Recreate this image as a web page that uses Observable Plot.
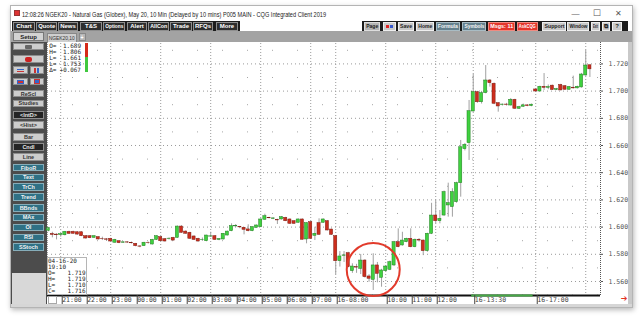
<!DOCTYPE html>
<html><head><meta charset="utf-8">
<script src="https://cdn.jsdelivr.net/npm/d3@7"></script>
<script src="https://cdn.jsdelivr.net/npm/@observablehq/plot@0.6"></script>
<style>
html,body{margin:0;padding:0;background:#fff;width:640px;height:318px;overflow:hidden;}
#root{position:relative;width:640px;height:318px;font-family:"Liberation Sans",Arial,sans-serif;}
#root div{position:absolute;box-sizing:border-box;}
#root svg{position:absolute;}
.t{white-space:nowrap;display:inline-block;}
</style></head><body><div id="root"></div>
<script>
// ---------------- DATA (10-minute candles, NGEK20) ----------------
const sessions = [["15 20:30","16 15:50"],["16 17:00","16 19:10"]];
const open = [
1.5970,1.5950,1.5945,1.5942,1.5940,1.5965,1.5965,1.5962,1.5962,1.5933,
1.5933,1.5921,1.5926,1.5914,1.5910,1.5914,1.5885,1.5896,1.5885,1.5888,
1.5884,1.5877,1.5858,1.5860,1.5884,1.5872,1.5906,1.5926,1.5911,1.5912,
1.5921,1.5921,1.6004,1.5967,1.5958,1.5931,1.5914,1.5905,1.5896,1.5930,
1.5933,1.5906,1.5909,1.5938,1.5970,1.6005,1.6000,1.5995,1.5983,1.5970,
1.5995,1.6000,1.6054,1.6068,1.6060,1.6052,1.6056,1.6068,1.6056,1.6043,
1.6032,1.6056,1.5909,1.6036,1.5936,1.6029,1.6032,1.6043,1.5982,1.5933,
1.5749,1.5789,1.5808,1.5676,1.5705,1.5693,1.5754,1.5637,1.5612,1.5718,
1.5627,1.5676,1.5686,1.5718,1.5889,1.5865,1.5889,1.5914,1.5852,1.5907,
1.5901,1.5823,1.5951,1.6085,1.6043,1.6085,1.6159,1.6147,1.6183,1.6323,
1.6573,1.6617,1.6850,1.6992,1.6918,1.6985,1.7078,1.7054,1.6911,1.6898,
1.6901,1.6894,1.6936,1.6870,1.6885,1.6895,1.6890,1.7012,1.6997,1.7032,
1.7024,1.7040,1.7008,1.7045,1.7036,1.7010,1.7025,1.7020,1.7027,1.7115,
1.7190];
const high = [
1.5998,1.5962,1.5951,1.5951,1.5968,1.5970,1.5970,1.5966,1.5965,1.5936,
1.5937,1.5936,1.5930,1.5926,1.5916,1.5918,1.5910,1.5900,1.5892,1.5893,
1.5890,1.5880,1.5862,1.5888,1.5890,1.5910,1.5936,1.5930,1.5915,1.5920,
1.5925,1.6008,1.6010,1.5972,1.5962,1.5935,1.5918,1.5920,1.5940,1.5962,
1.5937,1.5915,1.5953,1.5970,1.6024,1.6019,1.6005,1.5998,1.6017,1.6002,
1.6015,1.6060,1.6095,1.6072,1.6068,1.6058,1.6078,1.6072,1.6060,1.6047,
1.6060,1.6060,1.6032,1.6040,1.5999,1.6061,1.6060,1.6048,1.5986,1.5937,
1.5820,1.5820,1.5815,1.5730,1.5726,1.5799,1.5760,1.5650,1.5804,1.5740,
1.5690,1.5715,1.5750,1.5895,1.5987,1.5962,1.5918,1.5987,1.5912,1.5915,
1.5905,1.5955,1.6175,1.6196,1.6122,1.6265,1.6323,1.6282,1.6330,1.6637,
1.6615,1.6931,1.7122,1.6998,1.6998,1.7188,1.7085,1.7060,1.6915,1.6905,
1.6910,1.6945,1.6940,1.6888,1.6905,1.6900,1.6905,1.7018,1.7036,1.7129,
1.7045,1.7044,1.7020,1.7050,1.7040,1.7034,1.7110,1.7036,1.7130,1.7299,
1.7190];
const low = [
1.5965,1.5921,1.5906,1.5926,1.5935,1.5948,1.5948,1.5940,1.5930,1.5912,
1.5915,1.5918,1.5905,1.5901,1.5894,1.5890,1.5882,1.5878,1.5880,1.5880,
1.5876,1.5855,1.5848,1.5857,1.5875,1.5868,1.5902,1.5892,1.5890,1.5905,
1.5898,1.5918,1.5955,1.5948,1.5910,1.5902,1.5890,1.5895,1.5892,1.5925,
1.5902,1.5900,1.5905,1.5935,1.5966,1.5998,1.5988,1.5943,1.5965,1.5966,
1.5992,1.5996,1.6050,1.6060,1.6055,1.6019,1.6052,1.6040,1.6020,1.6020,
1.6028,1.5905,1.5877,1.5910,1.5901,1.5940,1.6028,1.5972,1.5940,1.5651,
1.5706,1.5740,1.5700,1.5660,1.5660,1.5651,1.5625,1.5595,1.5534,1.5590,
1.5558,1.5670,1.5680,1.5710,1.5848,1.5860,1.5885,1.5848,1.5848,1.5890,
1.5790,1.5815,1.5945,1.6024,1.6024,1.6080,1.6073,1.6073,1.6175,1.6220,
1.6560,1.6490,1.6845,1.6910,1.6905,1.6980,1.7029,1.6900,1.6845,1.6890,
1.6890,1.6890,1.6865,1.6865,1.6880,1.6885,1.6885,1.6990,1.6994,1.7005,
1.7010,1.7005,1.7004,1.7002,1.7006,1.7006,1.7015,1.7016,1.7022,1.7110,
1.7100];
const close = [
1.5992,1.5942,1.5940,1.5948,1.5965,1.5950,1.5951,1.5945,1.5933,1.5916,
1.5918,1.5933,1.5909,1.5912,1.5907,1.5894,1.5906,1.5882,1.5888,1.5886,
1.5881,1.5860,1.5856,1.5885,1.5882,1.5906,1.5933,1.5896,1.5894,1.5915,
1.5901,1.6004,1.5958,1.5951,1.5914,1.5906,1.5894,1.5907,1.5938,1.5932,
1.5906,1.5912,1.5951,1.5967,1.6007,1.6008,1.5998,1.5980,1.5970,1.5999,
1.6012,1.6056,1.6080,1.6065,1.6064,1.6049,1.6073,1.6043,1.6024,1.6024,
1.6056,1.5907,1.6029,1.5914,1.5951,1.5943,1.6056,1.5975,1.5943,1.5749,
1.5784,1.5792,1.5705,1.5710,1.5702,1.5754,1.5632,1.5620,1.5718,1.5656,
1.5681,1.5710,1.5742,1.5889,1.5852,1.5901,1.5914,1.5852,1.5907,1.5901,
1.5823,1.5951,1.6085,1.6043,1.6061,1.6257,1.6176,1.6257,1.6323,1.6587,
1.6605,1.6852,1.6992,1.6918,1.6985,1.7078,1.7058,1.6907,1.6887,1.6901,
1.6898,1.6936,1.6870,1.6882,1.6895,1.6890,1.6900,1.6997,1.7032,1.7024,
1.7030,1.7008,1.7015,1.7005,1.7010,1.7030,1.7020,1.7032,1.7122,1.7188,
1.7160];
const priceTicks = [1.56,1.58,1.60,1.62,1.64,1.66,1.68,1.70,1.72];
const minorLevels = [1.55,1.57,1.59,1.61,1.63,1.65,1.67,1.69,1.71,1.73];
const tickBars = ["15 21:00","15 22:00","15 23:00","16 00:00","16 01:00","16 02:00","16 03:00","16 04:00","16 05:00","16 06:00","16 07:00","16 08:00","16 10:00","16 11:00","16 12:00","16 13:30","16 17:00"];
const tickLabels = ["21:00","22:00","23:00","00:00","01:00","02:00","03:00","04:00","05:00","06:00","07:00","16-08:00","10:00","11:00","12:00","16-13:30","16-17:00"];
const gridBars = ["15 21:00","15 23:00","16 01:00","16 03:00","16 05:00","16 07:00","16 08:00","16 10:00","16 12:00","16 13:30","16 17:00","16 19:00"];
const settlementSpan = ["16 13:30","16 15:50"];
const circled = {t:"16 09:30", price:1.5688};
const dayLabels = ["O=","H=","L=","L=","\u0394="];
const dayValues = ["1.689","1.806","1.661","1.753","+0.067"];
const cursorDate = "04-16-20", cursorTime = "19:10";
const priceFloor = 1.5497, priceCeil = 1.7350;

// ---------------- build bars ----------------
function toMin(s){const [d,hm]=s.split(" ");const [h,m]=hm.split(":").map(Number);return (+d)*1440+h*60+m;}
function fmtT(m){const d=Math.floor(m/1440),r=m%1440;return `${d} ${String(Math.floor(r/60)).padStart(2,"0")}:${String(r%60).padStart(2,"0")}`;}
const times=[];
for(const [a,b] of sessions) for(let m=toMin(a);m<=toMin(b);m+=10) times.push(fmtT(m));
const bars = times.map((t,i)=>({t,o:open[i],h:high[i],l:low[i],c:close[i]}));
const labelOf = new Map(tickBars.map((b,i)=>[b,tickLabels[i]]));

// ---------------- chrome helpers ----------------
const R = document.getElementById("root");
function div(x,y,w,h,css){const d=document.createElement("div");d.style.cssText=`left:${x}px;top:${y}px;width:${w}px;height:${h}px;${css||""}`;R.appendChild(d);return d;}
function txt(p,s,align){const sp=document.createElement("span");sp.className="t";sp.textContent=s;p.style.display="flex";p.style.alignItems="center";p.style.justifyContent=align==="left"?"flex-start":align==="right"?"flex-end":"center";sp.dataset.align=align||"center";p.appendChild(sp);return sp;}
function btn(label,x1,x2,y1,y2,css){const d=div(x1,y1,x2-x1,y2-y1,css);if(label)txt(d,label);return d;}

// window
div(10,5,623,303,"background:#d6d6d6;border:1px solid #b4b4b4;box-shadow:1px 2px 5px rgba(0,0,0,0.28);");
div(11,6,621,15,"background:#fff;");
div(14,10,6,6,"background:#d33;border:1px solid #933;");
const title = div(22,8,306,12,"font-size:7px;color:#222;");
txt(title,"12:08:26  NGEK20 - Natural Gas (Globex), May 20, 10 Min (Delayed by 10 mins)   P005 MAIN - CQG Integrated Client 2019","left");
btn("\u2014",570,581,8,18,"font-size:8px;color:#555;");
btn("\u2610",591,602,8,18,"font-size:9px;color:#555;");
btn("\u2715",612,624,8,18,"font-size:8px;color:#555;");
// toolbar row
div(11,20,621,11,"background:#fff;");
div(12,20.5,228,11,"background:#1c1c1c;");
div(362,20.5,266,11,"background:#1c1c1c;");
const dk="background:#2e2e2e;border:1px solid #8e8e8e;color:#fff;font-weight:bold;font-size:6px;";
[["Chart",13,35],["Quote",36,57],["News",58,78],["T&S",80,102],["Options",103,125],["Alert",127,147],["AllCon",148,169],["Trade",170,192],["RFQs",193,213],["More",216,238]].forEach(([l,a,b])=>btn(l,a,b,21.5,30.5,dk));
const lt="background:#c9c9c9;border:1px solid #eee;color:#222;font-weight:bold;font-size:6px;";
const bl="background:#64808d;border:1px solid #a9bcc4;color:#f4f4f4;font-weight:bold;font-size:6px;";
const rd="background:#e3352b;border:1px solid #f08a80;color:#fff;font-weight:bold;font-size:6px;";
btn("Page",364,380,21.5,30.5,"background:#b5b5b5;border:1px solid #ddd;color:#222;font-weight:bold;font-size:6px;");
btn("",383,396,21.5,30.5,lt);div(386,24.5,3,3,"background:#d22;");div(390,24.5,3,3,"background:#35c;");
btn("Save",398,414,21.5,30.5,lt);btn("Home",416,434,21.5,30.5,lt);
btn("Formula",436,460,21.5,30.5,bl);btn("Symbols",462,486,21.5,30.5,bl);
btn("Msgs: 11",488,515,21.5,30.5,rd);btn("AskCQG",517,538,21.5,30.5,rd);
btn("Support",542,566,21.5,30.5,lt);btn("Window",567,589,21.5,30.5,lt);btn("Exit",591,600,21.5,30.5,lt);
btn("\u29C9",602,610,21.5,30.5,lt+"font-size:6px;");btn("?",612,622,21.5,30.5,lt);
// row 3
div(11,31,621,11,"background:#a3a3a3;");
btn("Setup",13,44,32,41,"background:#d3d3d3;border:1px solid #777;color:#222;font-weight:bold;font-size:6px;");
btn("NGEK20,10",47,77,32.5,42,"background:#cfcfcf;border:1px solid #888;border-bottom:none;color:#333;font-size:5.5px;");
btn("+",79,86,33,41,"background:#b8b8b8;border:1px solid #888;color:#fff;font-size:7px;font-weight:bold;");
// sidebar
div(11,42,35.5,262,"background:#4c4c4c;");
const sl="background:#cdcdcd;border:1px solid #8d8d8d;color:#333;font-weight:bold;font-size:5.5px;";
const sd="background:#242424;border:1px solid #8d8d8d;color:#e6e6e6;font-weight:bold;font-size:5.5px;";
const st="background:#2f7185;border:1px solid #86adb9;color:#f2f2f2;font-weight:bold;font-size:5.5px;";
btn("",13,44,43,50,sl);div(25,44.5,7,4.5,"background:#666;border-radius:1px;");
btn("",13,44,55,63,sl);div(25,56.5,7,5,"background:#c22;border-radius:2px;");
btn("",13,28,66,73.5,sl);btn("",30,44,66,73.5,sl);div(17,68.5,7,1.5,"background:#36c;");div(17,71,7,1.2,"background:#c33;");div(34,67.5,1.5,5,"background:#c33;");div(37,67.5,1.5,5,"background:#36c;");
btn("",13,28,77.5,85,sl);btn("",30,44,77.5,85,sl);div(17,79.5,7,4,"background:#c33;border:1px solid #36c;");div(34,79,6,5,"background:#36c;border:1px solid #c33;");
[["ReScl",90,97,sl],["Studies",99.5,107,sl],["<IntD>",111,118.5,sd],["<Hist>",121,128.5,sl],["Bar",133,140.5,sl],["Cndl",143,150.5,sd],["Line",153,160.5,sl],
 ["FiboR",164,171,st],["Text",173.5,180.5,st],["TrCh",183,190.5,st],["Trend",193,200.5,st],["BBnds",204,211.5,st],["MAx",213.5,221,st],["OI",223.5,231,st],["RSI",233.5,241,st],["SStoch",243,250.5,st]]
 .forEach(([l,a,b,s])=>btn(l,13,44,a,b,s));
div(12,273,33.5,31,"background:#d8d8d8;");
// chart area
div(46.5,42,581.5,262,"background:#fff;");
div(628,42,4,262,"background:#c9c9c9;");

// ---------------- the chart ----------------
const up="#3fd13f", down="#cc2d1d";
const chart = Plot.plot({
  width:582, height:262,
  marginLeft:1, marginRight:28, marginTop:1, marginBottom:9,
  style:{background:"transparent", fontFamily:"'DejaVu Sans Mono', monospace", fontSize:"6.5px", color:"#333", overflow:"visible"},
  x:{type:"band", domain:times, range:[0.14,544.97], paddingInner:0.25, paddingOuter:0, align:0, round:false},
  y:{domain:[priceFloor, priceCeil]},
  color:{type:"identity"},
  marks:[
    Plot.ruleY(minorLevels,{stroke:"#a6a6a6", strokeDasharray:"1,24"}),
    Plot.ruleY(priceTicks,{stroke:"#9a9a9a", strokeDasharray:"1,3"}),
    Plot.ruleX(gridBars,{stroke:"#9a9a9a", strokeDasharray:"1,2"}),
    Plot.ruleX(bars,{x:"t", y1:"l", y2:"h", stroke:"#a0a0a0", strokeWidth:1}),
    Plot.barY(bars,{x:"t", y1:"o", y2:"c", fill:d=>d.c>=d.o?up:down, stroke:d=>d.c>=d.o?"#237d23":"#7e1c12", strokeWidth:0.5}),
    Plot.ruleY([priceFloor],{stroke:"#111", strokeWidth:2}),
    Plot.ruleY([{y:priceFloor, a:settlementSpan[0], b:settlementSpan[1]}],{y:"y", x1:"a", x2:"b", stroke:"#46a846", strokeWidth:2}),
    Plot.axisY({anchor:"right", ticks:priceTicks, tickFormat:d3.format(".3f"), tickSize:2, tickPadding:6, color:"#555"}),
    Plot.axisX({ticks:tickBars, tickFormat:d=>labelOf.get(d), tickSize:9, tickPadding:-7.3, textAnchor:"start", dx:1.5, color:"#444"}),
    Plot.dot([circled],{x:"t", y:"price", r:26.5, stroke:"#e23a2b", strokeWidth:2, fill:"none"})
  ]
});
chart.style.left="46px"; chart.style.top="42px";
R.appendChild(chart);

// frame borders of the plot
div(46.5,42,1,253,"border-left:1px dotted #9a9a9a;");
div(600,42,1,253,"border-left:1px dotted #555;");
// overlay: day info (top-left)
const mono="font-family:'DejaVu Sans Mono',monospace;font-size:6px;color:#222;";
dayLabels.forEach((l,k)=>{
  const y=42.3+k*6.1;
  btn(l,47.5,58,y,y+5.5,mono+"justify-content:flex-start;");
  const v=div(58,y,23,5.5,mono); txt(v,dayValues[k],"right");
});
div(85,42.5,2.5,14.5,"background:#d42a1a;");
div(85,57,2.5,15,"background:#3fc83f;");
// overlay: cursor box (bottom-left)
div(46.5,256.5,40,38,"background:#fff;border:1px solid #b5b5b5;");
const last = bars.length-1, f3=d3.format(".3f");
const boxLines=[[cursorDate,""],[cursorTime,""],["O=",f3(open[last])],["H=",f3(high[last])],["L=",f3(low[last])],["C=",f3(close[last])]];
boxLines.forEach(([a,b],k)=>{
  const y=257.8+k*6;
  const l=div(48,y,34,5.5,mono); txt(l,a,"left");
  if(b){const v=div(58,y,27.5,5.5,mono); txt(v,b,"right");}
});
div(47.5,296,9,7.5,"background:#fff;border:1px solid #a8a8a8;");
const arrow=div(619,294,10,9,"color:#e2321f;font-size:8px;font-family:'DejaVu Sans';"); txt(arrow,"\u2794");

// fit text widths
document.querySelectorAll("span.t").forEach(sp=>{
  const avail=sp.parentElement.clientWidth-2, w=sp.getBoundingClientRect().width;
  if(w>avail&&avail>0){sp.style.transform=`scaleX(${avail/w})`;sp.style.transformOrigin=sp.dataset.align==="left"?"left center":sp.dataset.align==="right"?"right center":"center center";}
});
</script></body></html>
